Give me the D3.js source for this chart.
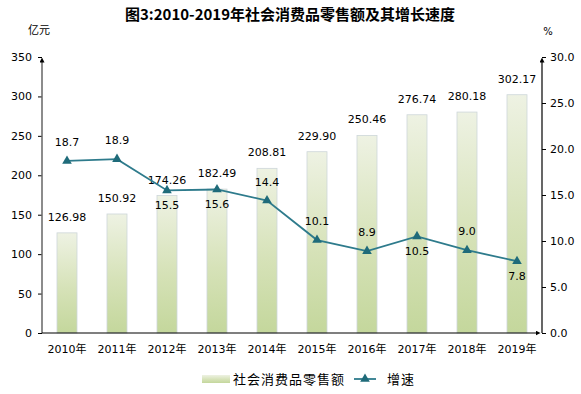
<!DOCTYPE html>
<html>
<head>
<meta charset="utf-8">
<script src="https://cdn.jsdelivr.net/npm/d3@7/dist/d3.min.js"></script>
<style>
  html, body { margin: 0; padding: 0; background: #fff; }
  svg { display: block; }
  text { font-family: "DejaVu Sans", "Noto Sans CJK SC", sans-serif; fill: #000; }
</style>
</head>
<body>
<div id="chart"></div>
<script>
// Chart 3: retail sales of consumer goods 2010-2019 and growth rate

var years = ['2010年','2011年','2012年','2013年','2014年','2015年','2016年','2017年','2018年','2019年'];
var sales = [126.98, 150.92, 174.26, 182.49, 208.81, 229.90, 250.46, 276.74, 280.18, 302.17];
var growth = [18.7, 18.9, 15.5, 15.6, 14.4, 10.1, 8.9, 10.5, 9.0, 7.8];
// label placement of growth values: true = above the point
var growthAbove = [true, true, false, false, true, true, true, false, true, false];
var leftTicks = [0, 50, 100, 150, 200, 250, 300, 350];
var rightTicks = [0, 5, 10, 15, 20, 25, 30];

var W = 581, H = 394;
var M = { left: 42, right: 39, top: 57, bottom: 61 };
var LINE_COLOR = '#2e7b8c';
var FONT_CJK = '"Noto Sans CJK SC", sans-serif';

var svg = d3.select('#chart').append('svg')
  .attr('width', W)
  .attr('height', H);

var defs = svg.append('defs');
var grad = defs.append('linearGradient')
  .attr('id', 'barGrad')
  .attr('x1', 0).attr('y1', 0).attr('x2', 0).attr('y2', 1);
grad.append('stop').attr('offset', '0%').attr('stop-color', '#eef2e3');
grad.append('stop').attr('offset', '55%').attr('stop-color', '#d6e2b8');
grad.append('stop').attr('offset', '100%').attr('stop-color', '#c4d79c');

var arrow = defs.append('marker')
  .attr('id', 'arrow')
  .attr('viewBox', '0 0 10 10')
  .attr('refX', 1).attr('refY', 5)
  .attr('markerWidth', 5).attr('markerHeight', 5)
  .attr('markerUnits', 'userSpaceOnUse')
  .attr('orient', 'auto');
arrow.append('path').attr('d', 'M0,0 L10,5 L0,10 Z').attr('fill', '#000');

var x = d3.scaleBand()
  .domain(years)
  .range([M.left, W - M.right])
  .paddingInner(0.6)
  .paddingOuter(0.3);

var yL = d3.scaleLinear().domain([0, 350]).range([H - M.bottom, M.top]);
var yR = d3.scaleLinear().domain([0, 30]).range([H - M.bottom, M.top]);

// title
svg.append('text')
  .attr('x', 290).attr('y', 20)
  .attr('text-anchor', 'middle')
  .style('font-family', FONT_CJK)
  .style('font-weight', 'bold')
  .style('font-size', '15px')
  .text('图3:2010-2019年社会消费品零售额及其增长速度');

// unit labels
svg.append('text')
  .attr('x', 28).attr('y', 34)
  .style('font-family', FONT_CJK)
  .style('font-size', '11px')
  .text('亿元');
svg.append('text')
  .attr('x', 548).attr('y', 35)
  .attr('text-anchor', 'middle')
  .style('font-size', '10px')
  .text('%');

// bars
svg.append('g').selectAll('rect')
  .data(sales)
  .enter().append('rect')
  .attr('x', function(d, i){ return x(years[i]); })
  .attr('y', function(d){ return yL(d); })
  .attr('width', x.bandwidth())
  .attr('height', function(d){ return yL(0) - yL(d); })
  .attr('fill', 'url(#barGrad)')
  .attr('stroke', '#cdd6d9')
  .attr('stroke-width', 0.8);

// bar value labels
svg.append('g').selectAll('text')
  .data(sales)
  .enter().append('text')
  .attr('x', function(d, i){ return x(years[i]) + x.bandwidth() / 2; })
  .attr('y', function(d){ return yL(d) - 12; })
  .attr('text-anchor', 'middle')
  .style('font-size', '11px')
  .text(function(d){ return d.toFixed(2); });

// axes
var axisLeft = d3.axisLeft(yL).tickValues(leftTicks).tickSize(4).tickPadding(6);
var gL = svg.append('g')
  .attr('transform', 'translate(' + M.left + ',0)')
  .call(axisLeft);
gL.select('.domain').remove();
gL.selectAll('text').style('font-size', '11px');

var axisRight = d3.axisRight(yR).tickValues(rightTicks).tickSize(4).tickPadding(4)
  .tickFormat(d3.format('.1f'));
var gR = svg.append('g')
  .attr('transform', 'translate(' + (W - M.right) + ',0)')
  .call(axisRight);
gR.select('.domain').remove();
gR.selectAll('text').style('font-size', '11px');

svg.selectAll('.tick line').attr('stroke', '#000');

var axisBottom = d3.axisBottom(x).tickSize(0).tickPadding(12);
var gB = svg.append('g')
  .attr('transform', 'translate(0,' + (H - M.bottom) + ')')
  .call(axisBottom);
gB.select('.domain').remove();
gB.selectAll('text')
  .style('font-family', '"DejaVu Sans", "Noto Sans CJK SC", sans-serif')
  .style('font-size', '11px');

// axis lines with arrows
svg.append('line')
  .attr('x1', M.left).attr('y1', yL(0))
  .attr('x2', M.left).attr('y2', yL(350) + 5)
  .attr('stroke', '#666').attr('stroke-width', 1.5)
  .attr('marker-end', 'url(#arrow)');
svg.append('line')
  .attr('x1', W - M.right).attr('y1', yR(0))
  .attr('x2', W - M.right).attr('y2', yR(30) + 5)
  .attr('stroke', '#000').attr('stroke-width', 1.2)
  .attr('marker-end', 'url(#arrow)');
svg.append('line')
  .attr('x1', M.left).attr('y1', yL(0))
  .attr('x2', W - M.right - 6).attr('y2', yL(0))
  .attr('stroke', '#000').attr('stroke-width', 1.2)
  .attr('marker-end', 'url(#arrow)');

// growth line
var cx = function(d, i){ return x(years[i]) + x.bandwidth() / 2; };
var line = d3.line()
  .x(cx)
  .y(function(d){ return yR(d); });

svg.append('path')
  .datum(growth)
  .attr('d', line)
  .attr('fill', 'none')
  .attr('stroke', LINE_COLOR)
  .attr('stroke-width', 1.8);

var tri = d3.symbol().type(d3.symbolTriangle).size(40);
svg.append('g').selectAll('path')
  .data(growth)
  .enter().append('path')
  .attr('d', tri)
  .attr('transform', function(d, i){ return 'translate(' + cx(d, i) + ',' + yR(d) + ')'; })
  .attr('fill', '#1f6b7a');

svg.append('g').selectAll('text')
  .data(growth)
  .enter().append('text')
  .attr('x', cx)
  .attr('y', function(d, i){ return yR(d) + (growthAbove[i] ? -15 : 19); })
  .attr('text-anchor', 'middle')
  .style('font-size', '11px')
  .text(function(d){ return d.toFixed(1); });

// legend
var lg = svg.append('g');
lg.append('rect')
  .attr('x', 202).attr('y', 375)
  .attr('width', 28).attr('height', 8)
  .attr('fill', 'url(#barGrad)');
lg.append('text')
  .attr('x', 233).attr('y', 384)
  .style('font-family', FONT_CJK)
  .style('font-size', '13px')
  .style('letter-spacing', '1px')
  .text('社会消费品零售额');
lg.append('line')
  .attr('x1', 354).attr('y1', 379).attr('x2', 376).attr('y2', 379)
  .attr('stroke', LINE_COLOR).attr('stroke-width', 1.8);
lg.append('path')
  .attr('d', tri)
  .attr('transform', 'translate(365,379)')
  .attr('fill', '#1f6b7a');
lg.append('text')
  .attr('x', 387).attr('y', 384)
  .style('font-family', FONT_CJK)
  .style('font-size', '13px')
  .style('letter-spacing', '1px')
  .text('增速');
</script>
</body>
</html>
